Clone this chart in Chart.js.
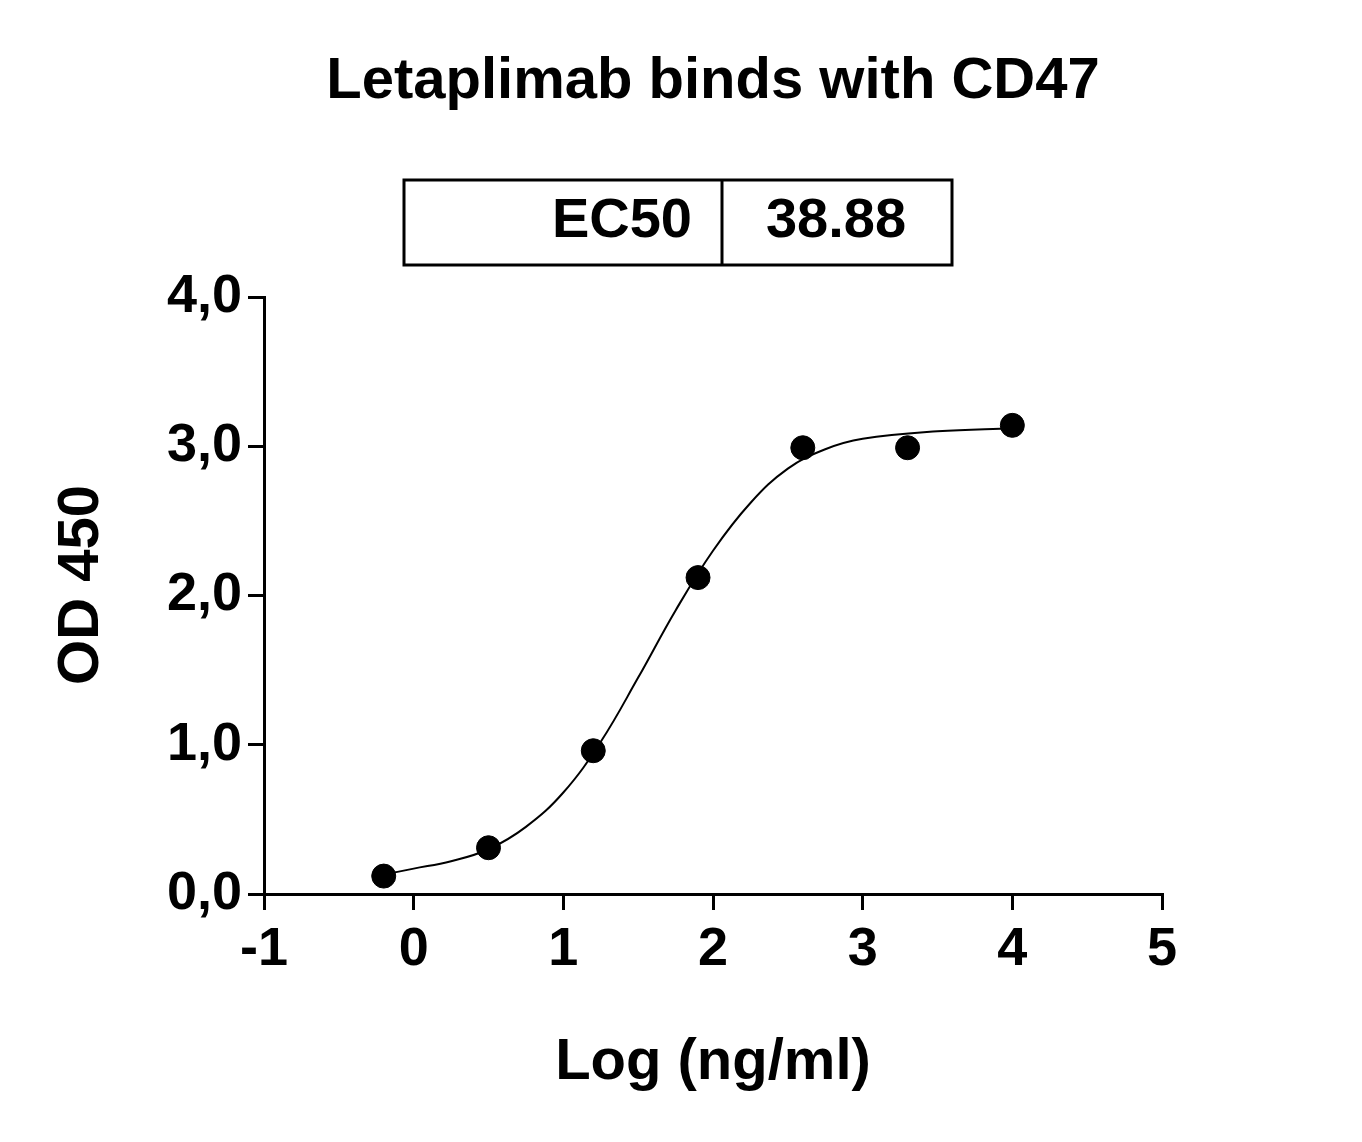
<!DOCTYPE html>
<html><head><meta charset="utf-8">
<script src="https://cdn.jsdelivr.net/npm/chart.js@4"></script>
<style>html,body{margin:0;padding:0;background:#fff}#w{width:1362px;height:1142px}</style>
</head><body><div id="w"><canvas id="c"></canvas></div>
<script>
const pointX = [-0.2, 0.5, 1.2, 1.9, 2.6, 3.3, 4.0];
const pointY = [0.12, 0.31, 0.96, 2.12, 2.99, 2.99, 3.14];
const curveX = [-0.2, 0, 0.25, 0.5, 0.75, 1.0, 1.25, 1.5, 1.75, 2.0, 2.25, 2.5, 2.75, 3.0, 3.5, 4.0];
const curveY = [0.13, 0.17, 0.22, 0.30, 0.45, 0.68, 1.02, 1.45, 1.90, 2.30, 2.62, 2.85, 2.98, 3.05, 3.10, 3.12];
const titleText = "Letaplimab binds with CD47";
const ec50Label = "EC50", ec50Value = "38.88";
const xTitle = "Log (ng/ml)", yTitle = "OD 450";
const F = "'Liberation Sans', Arial, sans-serif";

const deco = {
  id: 'deco',
  afterDraw(ch) {
    const c = ch.ctx; c.save();
    c.fillStyle = '#000'; c.textAlign = 'center'; c.textBaseline = 'middle';
    c.font = 'bold 58px ' + F; c.fillText(titleText, 713, 82);
    c.lineWidth = 3; c.strokeStyle = '#000';
    c.strokeRect(404, 180, 548, 85);
    c.beginPath(); c.moveTo(722, 180); c.lineTo(722, 265); c.stroke();
    c.font = 'bold 56px ' + F;
    c.textAlign = 'right'; c.fillText(ec50Label, 692, 222);
    c.textAlign = 'center'; c.fillText(ec50Value, 836, 222);
    c.font = 'bold 58px ' + F;
    c.fillText(xTitle, 713, 1063);
    c.translate(82, 585); c.rotate(-Math.PI / 2); c.fillText(yTitle, 0, 0);
    c.restore();
  }
};

new Chart(document.getElementById('c'), {
  type: 'scatter',
  data: { datasets: [
    { type: 'line', data: curveX.map((x, i) => ({x, y: curveY[i]})), borderColor: '#000', borderWidth: 2, pointRadius: 0, tension: 0.4, fill: false },
    { data: pointX.map((x, i) => ({x, y: pointY[i]})), backgroundColor: '#000', borderColor: '#000', pointRadius: 12 }
  ]},
  options: {
    responsive: true, maintainAspectRatio: false, animation: false,
    layout: { padding: { top: 297, right: 200, left: 0, bottom: 0 } },
    plugins: { legend: { display: false }, tooltip: { enabled: false } },
    scales: {
      x: { type: 'linear', min: -1, max: 5,
        afterFit(s) { s.height = 248; },
        ticks: { stepSize: 1, color: '#000', font: { family: F, size: 54, weight: 'bold' }, padding: 8 },
        grid: { drawOnChartArea: false, tickLength: 16, color: '#000', lineWidth: 3 },
        border: { color: '#000', width: 3 } },
      y: { min: 0, max: 4,
        afterFit(s) { s.width = 264; },
        ticks: { stepSize: 1, color: '#000', font: { family: F, size: 54, weight: 'bold' }, padding: 6,
          callback: v => v.toFixed(1).replace('.', ',') },
        grid: { drawOnChartArea: false, tickLength: 16, color: '#000', lineWidth: 3 },
        border: { color: '#000', width: 3 } }
    }
  },
  plugins: [deco]
});
</script></body></html>
